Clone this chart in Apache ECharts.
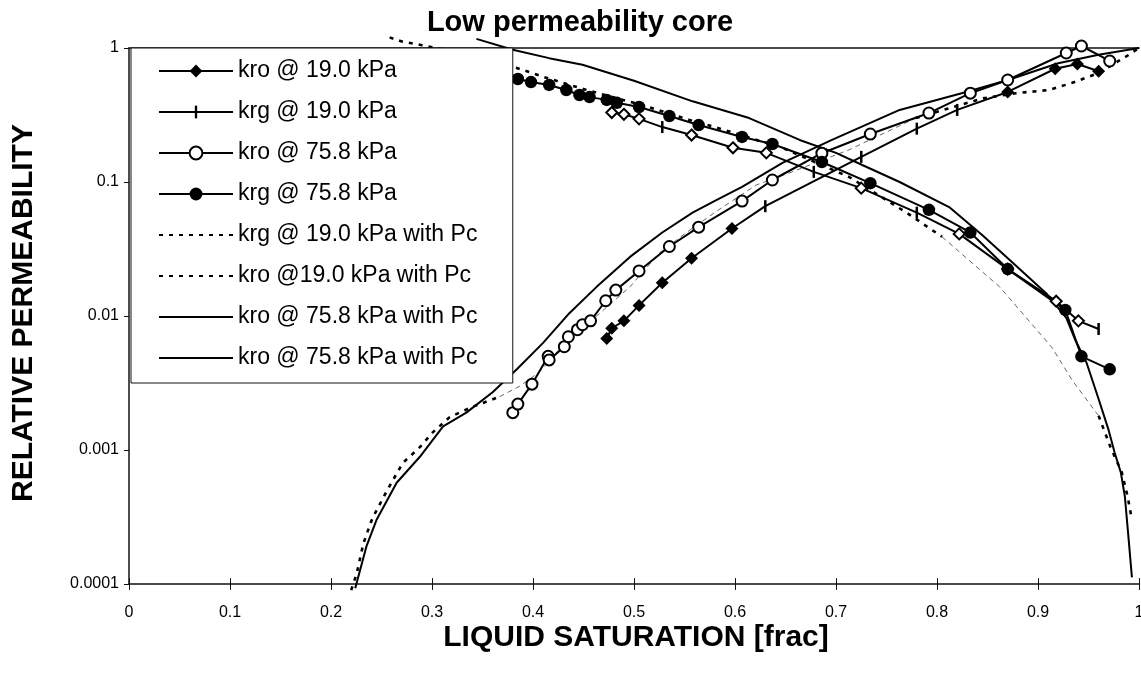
<!DOCTYPE html>
<html>
<head>
<meta charset="utf-8">
<script src="https://cdn.jsdelivr.net/npm/echarts@6/dist/echarts.min.js"></script>
<style>
  html, body { margin: 0; padding: 0; background: #fff; }
  #chart { width: 1141px; height: 677px; }
</style>
</head>
<body>
<div id="chart"></div>
<script>
// ---- measured data ----
// kro @ 19.0 kPa (rising, filled diamonds; 't' points carry a tick marker)
const kro19X = [0.473, 0.478, 0.490, 0.505, 0.528, 0.557, 0.597, 0.630, 0.725, 0.780, 0.820, 0.870, 0.917, 0.939, 0.960];
const kro19Y = [0.0068, 0.0081, 0.0092, 0.0120, 0.0177, 0.027, 0.045, 0.066, 0.154, 0.25, 0.345, 0.47, 0.70, 0.76, 0.67];
const kro19Mark = ['d', 'd', 'd', 'd', 'd', 'd', 'd', 't', 't', 't', 't', 'd', 'd', 'd', 'd'];

// krg @ 19.0 kPa (falling, tick markers; 'o' points carry an open diamond)
const krg19X = [0.478, 0.490, 0.505, 0.528, 0.557, 0.598, 0.631, 0.678, 0.725, 0.780, 0.822, 0.870, 0.918, 0.940, 0.960];
const krg19Y = [0.33, 0.32, 0.296, 0.257, 0.224, 0.18, 0.165, 0.119, 0.09, 0.059, 0.041, 0.0224, 0.0129, 0.0092, 0.0080];
const krg19Mark = ['o', 'o', 'o', 't', 'o', 'o', 'o', 't', 'o', 't', 'o', 'o', 'o', 'o', 't'];

// kro @ 75.8 kPa (rising, open circles)
const kro758X = [0.380, 0.385, 0.399, 0.415, 0.416, 0.431, 0.435, 0.444, 0.449, 0.457, 0.472, 0.482, 0.505, 0.535, 0.564, 0.607, 0.637, 0.686, 0.734, 0.792, 0.833, 0.870, 0.928, 0.943, 0.971];
const kro758Y = [0.0019, 0.0022, 0.0031, 0.0050, 0.0047, 0.0059, 0.0070, 0.0079, 0.0086, 0.0092, 0.0130, 0.0156, 0.0217, 0.033, 0.046, 0.072, 0.1035, 0.164, 0.228, 0.327, 0.46, 0.577, 0.918, 1.035, 0.80];

// krg @ 75.8 kPa (falling, filled circles)
const krg758X = [0.372, 0.385, 0.398, 0.416, 0.433, 0.446, 0.456, 0.473, 0.483, 0.505, 0.535, 0.564, 0.607, 0.637, 0.686, 0.734, 0.792, 0.833, 0.870, 0.927, 0.943, 0.971];
const krg758Y = [0.62, 0.587, 0.557, 0.53, 0.486, 0.446, 0.43, 0.41, 0.39, 0.363, 0.311, 0.266, 0.217, 0.192, 0.141, 0.098, 0.062, 0.042, 0.0224, 0.0111, 0.0050, 0.0040];

// krg @ 19.0 kPa with Pc (model curve, falling)
const krg19PcX = [0.258, 0.270, 0.290, 0.310, 0.340, 0.384, 0.410, 0.453, 0.508, 0.555, 0.580, 0.647, 0.713, 0.770, 0.805, 0.862, 0.914, 0.934, 0.960, 0.972, 0.983, 0.989, 0.993];
const krg19PcY = [1.2, 1.12, 1.05, 0.98, 0.85, 0.71, 0.61, 0.486, 0.375, 0.29, 0.257, 0.18, 0.109, 0.059, 0.039, 0.0165, 0.0058, 0.0033, 0.0018, 0.00104, 0.00068, 0.00044, 0.0003];

// kro @19.0 kPa with Pc (model curve, rising)
const kro19PcX = [0.220, 0.2255, 0.232, 0.241, 0.255, 0.271, 0.288, 0.301, 0.3175, 0.340, 0.367, 0.387, 0.406, 0.429, 0.463, 0.496, 0.525, 0.552, 0.581, 0.621, 0.654, 0.713, 0.779, 0.845, 0.878, 0.911, 0.934, 0.960, 0.990, 1.0];
const kro19PcY = [0.00009, 0.00012, 0.0002, 0.00031, 0.00049, 0.0008, 0.00105, 0.00136, 0.00176, 0.0021, 0.0025, 0.0030, 0.0038, 0.0060, 0.010, 0.0165, 0.0295, 0.042, 0.060, 0.095, 0.117, 0.174, 0.30, 0.42, 0.46, 0.486, 0.55, 0.65, 0.89, 1.0];

// kro @ 75.8 kPa with Pc (model curve, rising)
const kro758PcUpX = [0.224, 0.235, 0.245, 0.265, 0.288, 0.311, 0.334, 0.360, 0.384, 0.410, 0.436, 0.463, 0.496, 0.528, 0.558, 0.581, 0.607, 0.647, 0.696, 0.763, 0.829, 0.871, 0.920, 0.960, 1.0];
const kro758PcUpY = [0.000093, 0.00019, 0.0003, 0.00057, 0.00089, 0.0015, 0.0019, 0.0027, 0.0040, 0.0063, 0.0105, 0.0165, 0.0276, 0.042, 0.059, 0.073, 0.092, 0.139, 0.206, 0.345, 0.47, 0.58, 0.77, 0.89, 1.0];

// kro @ 75.8 kPa with Pc (model curve, falling)
const kro758PcDnX = [0.344, 0.380, 0.416, 0.449, 0.500, 0.558, 0.614, 0.664, 0.700, 0.726, 0.763, 0.812, 0.845, 0.875, 0.908, 0.928, 0.937, 0.948, 0.960, 0.970, 0.976, 0.982, 0.986, 0.989, 0.993];
const kro758PcDnY = [1.17, 0.97, 0.84, 0.75, 0.57, 0.40, 0.30, 0.206, 0.165, 0.134, 0.100, 0.065, 0.040, 0.025, 0.0148, 0.0097, 0.0066, 0.0045, 0.0024, 0.0014, 0.00095, 0.00068, 0.00045, 0.00025, 0.000112];

// axis ticks
const xTicks = [0, 0.1, 0.2, 0.3, 0.4, 0.5, 0.6, 0.7, 0.8, 0.9, 1];
const yTicks = [0.0001, 0.001, 0.01, 0.1, 1];

const legendNames = [
  'kro @ 19.0 kPa',
  'krg @ 19.0 kPa',
  'kro @ 75.8 kPa',
  'krg @ 75.8 kPa',
  'krg @ 19.0 kPa with Pc',
  'kro @19.0 kPa with Pc',
  'kro @ 75.8 kPa with Pc',
  'kro @ 75.8 kPa with Pc '
];

// ---- drawing ----
const FONT = '"Liberation Sans", Arial, Helvetica, sans-serif';
const TICK = 'path://M0,0H1V5H0Z';
// same tick, padded to a square box so the legend keeps it thin
const TICK_LEGEND = 'path://M0,0M12,12M4.9,0H7.1V12H4.9Z';
const BAR = { symbol: TICK, symbolSize: [2.5, 12] };
const OPEN_DIAMOND = { symbol: 'emptyDiamond', symbolSize: 11 };

function points(xs, ys, marks, styleFor) {
  return xs.map((x, i) => {
    const item = { value: [x, ys[i]] };
    if (marks && styleFor[marks[i]]) Object.assign(item, styleFor[marks[i]]);
    return item;
  });
}

// slice of a curve between two saturations (inclusive)
function span(xs, ys, lo, hi) {
  const out = [];
  xs.forEach((x, i) => { if (x >= lo - 1e-9 && x <= hi + 1e-9) out.push({ value: [x, ys[i]] }); });
  return out;
}

function dataSeries(name, data, symbol, symbolSize) {
  return {
    name, type: 'line', data, symbol, symbolSize,
    showSymbol: true, clip: false, silent: true, z: 3,
    lineStyle: { color: '#000', width: 2 },
    itemStyle: { color: '#000', borderWidth: 1.6 },
    emphasis: { disabled: true }
  };
}

const BOLD_DASH = { color: '#000', width: 2.6, type: [4, 6] };
const THIN_DASH = { color: '#666', width: 1, type: [5, 4] };
const SOLID = { color: '#000', width: 2, type: 'solid' };

function curveSeries(name, data, lineStyle) {
  return {
    name, type: 'line', data, showSymbol: false, symbol: 'circle',
    clip: false, silent: true, z: 2,
    lineStyle,
    itemStyle: { color: '#000' },
    emphasis: { disabled: true }
  };
}

const series = [
  curveSeries(legendNames[4], span(krg19PcX, krg19PcY, 0, 0.805), BOLD_DASH),
  curveSeries('krg19Pc-thin', span(krg19PcX, krg19PcY, 0.805, 0.960), THIN_DASH),
  curveSeries('krg19Pc-tail', span(krg19PcX, krg19PcY, 0.960, 1), BOLD_DASH),
  curveSeries(legendNames[5], span(kro19PcX, kro19PcY, 0, 0.367), BOLD_DASH),
  curveSeries('kro19Pc-thin', span(kro19PcX, kro19PcY, 0.367, 0.779), THIN_DASH),
  curveSeries('kro19Pc-tail', span(kro19PcX, kro19PcY, 0.779, 1), BOLD_DASH),
  curveSeries(legendNames[6], points(kro758PcUpX, kro758PcUpY), SOLID),
  curveSeries(legendNames[7], points(kro758PcDnX, kro758PcDnY), SOLID),
  dataSeries(legendNames[0], points(kro19X, kro19Y, kro19Mark, { t: BAR }), 'diamond', 13),
  dataSeries(legendNames[1], points(krg19X, krg19Y, krg19Mark, { t: BAR, o: OPEN_DIAMOND }), TICK_LEGEND, 12),
  dataSeries(legendNames[2], points(kro758X, kro758Y), 'emptyCircle', 11),
  dataSeries(legendNames[3], points(krg758X, krg758Y), 'circle', 12.5)
];

const axisLineStyle = { color: '#111', width: 1.5 };
const fmt = v => String(Number(Number(v).toPrecision(4)));

const chart = echarts.init(document.getElementById('chart'), null, { renderer: 'canvas' });
chart.setOption({
  backgroundColor: '#fff',
  animation: false,
  grid: { left: 129, right: 2, top: 48, bottom: 93, containLabel: false, outerBoundsMode: 'none' },
  xAxis: [
    {
      type: 'value', min: xTicks[0], max: xTicks[xTicks.length - 1], interval: 0.1, position: 'bottom',
      axisLine: { show: true, lineStyle: axisLineStyle },
      axisTick: { show: true, length: 6, lineStyle: { color: '#111', width: 1 } },
      axisLabel: { show: true, margin: 21, color: '#000', fontSize: 16, fontFamily: FONT, formatter: fmt, showMinLabel: true, showMaxLabel: true },
      splitLine: { show: false }
    },
    {
      type: 'value', min: xTicks[0], max: xTicks[xTicks.length - 1], interval: 0.1, position: 'bottom',
      axisLine: { show: false },
      axisTick: { show: true, inside: true, length: 6, lineStyle: { color: '#111', width: 1 } },
      axisLabel: { show: false }, splitLine: { show: false }
    },
    {
      type: 'value', min: xTicks[0], max: xTicks[xTicks.length - 1], position: 'top',
      axisLine: { show: true, lineStyle: axisLineStyle },
      axisTick: { show: false }, axisLabel: { show: false }, splitLine: { show: false }
    }
  ],
  yAxis: [
    {
      type: 'log', logBase: 10, min: yTicks[0], max: yTicks[yTicks.length - 1], splitNumber: 4,
      axisLine: { show: true, lineStyle: axisLineStyle },
      axisTick: { show: true, length: 5, lineStyle: { color: '#111', width: 1 } },
      axisLabel: { show: true, margin: 10, color: '#000', fontSize: 16, fontFamily: FONT, formatter: fmt },
      splitLine: { show: false }, minorTick: { show: false }
    },
    {
      type: 'log', logBase: 10, min: yTicks[0], max: yTicks[yTicks.length - 1], splitNumber: 4,
      axisLine: { show: false },
      axisTick: { show: true, inside: true, length: 5, lineStyle: { color: '#111', width: 1 } },
      axisLabel: { show: false }, splitLine: { show: false }
    }
  ],
  legend: {
    show: true,
    orient: 'vertical',
    left: 131, top: 48,
    padding: [11, 29, 13, 27],
    itemWidth: 74, itemHeight: 16, itemGap: 17,
    backgroundColor: '#fff',
    borderColor: '#111', borderWidth: 1, borderRadius: 0,
    selectedMode: false,
    z: 10,
    textStyle: { color: '#000', fontSize: 23, lineHeight: 24, fontFamily: FONT },
    data: legendNames.map((name, i) => i >= 4 ? { name, itemStyle: { opacity: 0 } } : { name })
  },
  graphic: [
    {
      type: 'text', x: 580, y: 23, z: 20,
      style: { text: 'Low permeability core', font: 'bold 29px ' + FONT, fill: '#000', textAlign: 'center', textVerticalAlign: 'middle', verticalAlign: 'middle' }
    },
    {
      type: 'text', x: 636, y: 638, z: 20,
      style: { text: 'LIQUID SATURATION [frac]', font: 'bold 30px ' + FONT, fill: '#000', textAlign: 'center', textVerticalAlign: 'middle', verticalAlign: 'middle' }
    },
    {
      type: 'text', x: 24, y: 313, rotation: Math.PI / 2, z: 20,
      style: { text: 'RELATIVE PERMEABILITY', font: 'bold 30px ' + FONT, fill: '#000', textAlign: 'center', textVerticalAlign: 'middle', verticalAlign: 'middle' }
    }
  ],
  series
});
</script>
</body>
</html>
